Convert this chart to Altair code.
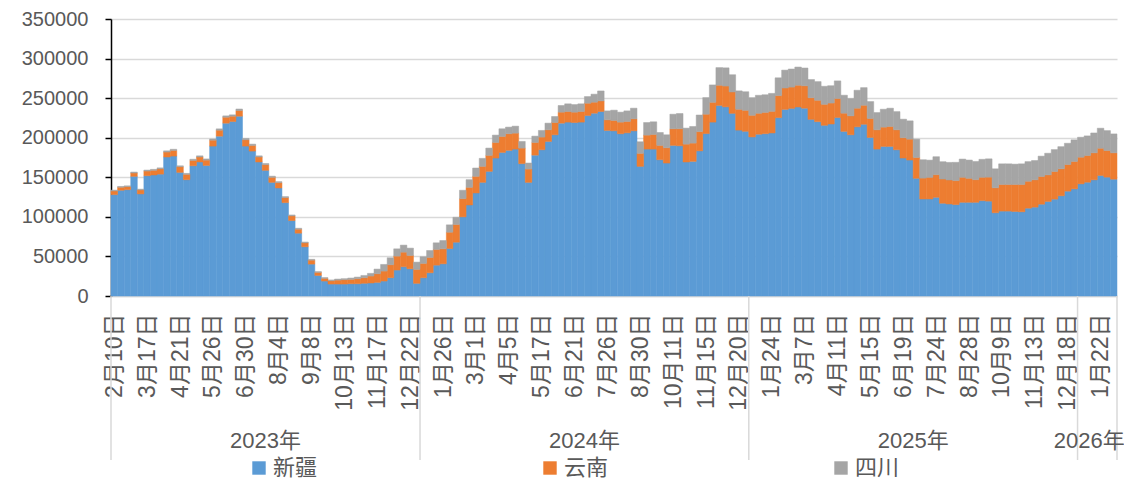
import json
import altair as alt
import pandas as pd

# ---------------- data ----------------
series_names = ["新疆", "云南", "四川"]
series_colors = ["#5B9BD5", "#ED7D31", "#A5A5A5"]

years = ["2023年", "2024年", "2025年", "2026年"]
year_weeks = [47, 50, 50, 6]

tick_labels = ["2月10日", "3月17日", "4月21日", "5月26日", "6月30日", "8月4日", "9月8日",
               "10月13日", "11月17日", "12月22日",
               "1月26日", "3月1日", "4月5日", "5月17日", "6月21日", "7月26日", "8月30日",
               "10月11日", "11月15日", "12月20日",
               "1月24日", "3月7日", "4月11日", "5月15日", "6月19日", "7月24日", "8月28日",
               "10月9日", "11月13日", "12月18日", "1月22日"]

xinjiang = [128100, 133600, 134400, 151200, 129000, 152000, 152900, 154000, 175600, 176800,
            156200, 147000, 164600, 169300, 165000, 189400, 202000, 218400, 220500, 227200,
            189400, 183100, 169300, 158800, 143600, 136500, 118000, 95300, 79400, 62200,
            40300, 26000, 18900, 15100, 15100, 15100, 15500, 15500, 16000, 16400,
            17200, 18900, 23100, 32800, 37000, 34400, 16000, 23100, 29400, 39000,
            40700, 60000, 68000, 100000, 115000, 130200, 143600, 157500, 174300, 181400,
            184000, 185600, 167200, 143600, 178000, 184800, 195300, 203700, 218400, 219700,
            219200, 219700, 228100, 231000, 233100, 209200, 208700, 205000, 206200, 208700,
            163800, 185600, 185600, 172200, 168000, 190300, 189800, 169300, 170100, 183400,
            205200, 219700, 240800, 239000, 230800, 209600, 208100, 201000, 204400, 205100,
            206000, 225400, 235800, 237100, 238800, 237300, 223200, 220300, 215700, 217300,
            225500, 208000, 203700, 213800, 217000, 200300, 185600, 189000, 189000, 184800,
            174300, 171800, 148700, 122600, 122600, 124700, 117200, 116300, 115500, 118400,
            118400, 118400, 120500, 119900, 105200, 107300, 107300, 106800, 106400, 111000,
            112300, 116000, 119500, 122400, 126600, 132500, 135400, 141700, 143800, 146800,
            152300, 150200, 147600]

yunnan = [4600, 3800, 3800, 4200, 5000, 5900, 5900, 6700, 6300, 7100,
          7100, 6700, 6700, 6300, 6700, 7500, 7500, 7500, 6700, 7100,
          8000, 7100, 6300, 7100, 6300, 6700, 6300, 5900, 5000, 5000,
          5000, 3800, 3400, 4200, 5000, 5500, 5500, 6300, 7100, 8800,
          10900, 12600, 16400, 17600, 18400, 16800, 17600, 18100, 19300, 19800,
          18900, 20600, 22300, 23000, 22300, 21000, 20200, 20200, 19700, 20200,
          21000, 20200, 19700, 16800, 16000, 16000, 14700, 15500, 13900, 13400,
          13100, 13400, 15500, 13900, 13400, 13400, 13100, 14700, 14300, 15200,
          16400, 17700, 18500, 18100, 19300, 21000, 21500, 22600, 23100, 24300,
          24500, 25000, 25500, 26300, 27000, 26300, 26500, 27300, 26500, 26900,
          27300, 27800, 27000, 26900, 27500, 28300, 27300, 27000, 26500, 26500,
          24000, 23000, 23900, 23500, 24000, 24000, 24400, 24400, 25200, 25200,
          25700, 26400, 26300, 26400, 27300, 28600, 30600, 30300, 30300, 31600,
          30300, 28600, 29500, 30300, 31500, 33600, 33600, 34100, 34500, 34000,
          34500, 35000, 33500, 34900, 34100, 33600, 34600, 33700, 33700, 34100,
          34400, 33600, 33300]

sichuan = [1000, 1000, 1000, 1200, 1000, 1200, 1200, 1200, 1500, 1500,
           1200, 1200, 1500, 1500, 1500, 1500, 1700, 1700, 1700, 2000,
           1700, 1700, 1500, 1500, 1500, 1300, 1300, 1200, 1200, 1000,
           1000, 1000, 900, 1000, 1300, 1300, 1700, 2100, 2900, 3400,
           5900, 8400, 8800, 9200, 8900, 9300, 9200, 8400, 8800, 8400,
           10500, 9300, 9200, 10600, 9700, 10500, 10100, 9200, 9300, 9700,
           8400, 8800, 8400, 7600, 8000, 8400, 8400, 7600, 8400, 9700,
           9600, 9700, 8400, 10100, 12600, 11300, 13000, 12600, 13400, 13400,
           14700, 15900, 16000, 16300, 16400, 18400, 19300, 20200, 21000, 21000,
           21000, 22000, 22300, 23000, 21800, 23300, 23500, 22300, 22700, 22300,
           22700, 22500, 22600, 22800, 23000, 22500, 23000, 23600, 22800, 21900,
           22300, 22700, 21900, 22700, 22300, 21400, 21800, 22600, 23100, 23000,
           23400, 23100, 23200, 23200, 21800, 22700, 21900, 22200, 23100, 23000,
           23100, 23000, 22700, 23100, 24000, 26100, 26100, 25700, 26100, 24800,
           24400, 25700, 27400, 27700, 28000, 26900, 27300, 25200, 24800, 25100,
           25300, 25200, 23900]

# ---------------- tables ----------------
rows = []
for k, (name, vals) in enumerate(zip(series_names, [xinjiang, yunnan, sichuan])):
    for i, v in enumerate(vals):
        rows.append({"idx": i, "series": name, "value": v, "order": k})
df = pd.DataFrame(rows)
n_points = len(xinjiang)

bounds = [0]
for w in year_weeks:
    bounds.append(bounds[-1] + w)
year_df = pd.DataFrame({"year": years,
                        "mid": [(bounds[i] + bounds[i + 1]) / 2 for i in range(len(years))]})
sep_df = pd.DataFrame({"b": bounds})

W, H = 1006, 277
FONT = "Liberation Sans, Noto Sans CJK SC, sans-serif"
TXT = "#595959"
GRID = "#D9D9D9"

xscale = alt.Scale(domain=[0, n_points], nice=False, zero=False)
color_scale = alt.Scale(domain=series_names, range=series_colors)

label_expr = json.dumps(tick_labels, ensure_ascii=False) + "[floor(datum.value/5)]"

x_axis = alt.Axis(values=[i * 5 + 0.5 for i in range(len(tick_labels))],
                  labelExpr=label_expr, labelAngle=270, labelAlign="right",
                  labelBaseline="middle", ticks=False, grid=False,
                  domain=True, domainColor=GRID, domainWidth=1.5,
                  labelPadding=17, labelFontSize=23, labelColor=TXT,
                  labelFont=FONT, labelOverlap=False, labelFlush=False,
                  title=None)

bars = alt.Chart(df).transform_stack(
    stack="value", groupby=["idx"], as_=["y0", "y1"],
    sort=[alt.SortField("order", order="ascending")]
).transform_calculate(
    idx1="datum.idx + 1"
).mark_rect(strokeWidth=0.5).encode(
    x=alt.X("idx:Q", scale=xscale, axis=x_axis),
    x2="idx1:Q",
    y=alt.Y("y0:Q", scale=alt.Scale(domain=[0, 350000], nice=False),
            axis=alt.Axis(values=list(range(0, 350001, 50000)), format="d",
                          grid=True, gridColor=GRID, gridWidth=1.5,
                          domain=True, domainColor="#000000", domainWidth=1.5,
                          ticks=True, tickColor="#000000", tickSize=6, tickWidth=1.5,
                          labelPadding=17, labelFontSize=20, labelColor=TXT,
                          labelFont=FONT, title=None)),
    y2="y1:Q",
    color=alt.Color("series:N", scale=color_scale, sort=series_names,
                    legend=alt.Legend(title=None, orient="none", legendX=137, legendY=438,
                                      direction="horizontal", columns=3,
                                      symbolType="square", symbolSize=180,
                                      symbolStrokeWidth=0, labelFontSize=22,
                                      labelFont=FONT, labelColor=TXT, labelOffset=3,
                                      columnPadding=221, padding=0)),
    stroke=alt.Color("series:N", scale=color_scale, legend=None),
    order=alt.Order("order:Q"),
)

seps = alt.Chart(sep_df).mark_rule(color=GRID, strokeWidth=1.5).encode(
    x=alt.X("b:Q", scale=xscale, axis=x_axis),
    y=alt.value(H),
    y2=alt.value(H + 164),
)

year_text = alt.Chart(year_df).transform_filter(
    alt.datum.mid < bounds[-2]
).mark_text(
    fontSize=22, font=FONT, color=TXT, baseline="middle", align="center"
).encode(
    x=alt.X("mid:Q", scale=xscale, axis=x_axis),
    y=alt.value(H + 145),
    text="year:N",
)

last_year_text = alt.Chart(year_df).transform_filter(
    alt.datum.mid > bounds[-2]
).mark_text(
    fontSize=22, font=FONT, color=TXT, baseline="middle", align="center", dx=-8
).encode(
    x=alt.X("mid:Q", scale=xscale, axis=x_axis),
    y=alt.value(H + 145),
    text="year:N",
)

chart = alt.layer(bars, seps, year_text, last_year_text).properties(
    width=W, height=H,
    autosize=alt.AutoSizeParams(type="none"),
    padding={"left": 103, "top": 11, "right": 7, "bottom": 186},
).configure_view(stroke=None)

chart.save("out.html", embed_options={"renderer": "svg", "actions": False})
